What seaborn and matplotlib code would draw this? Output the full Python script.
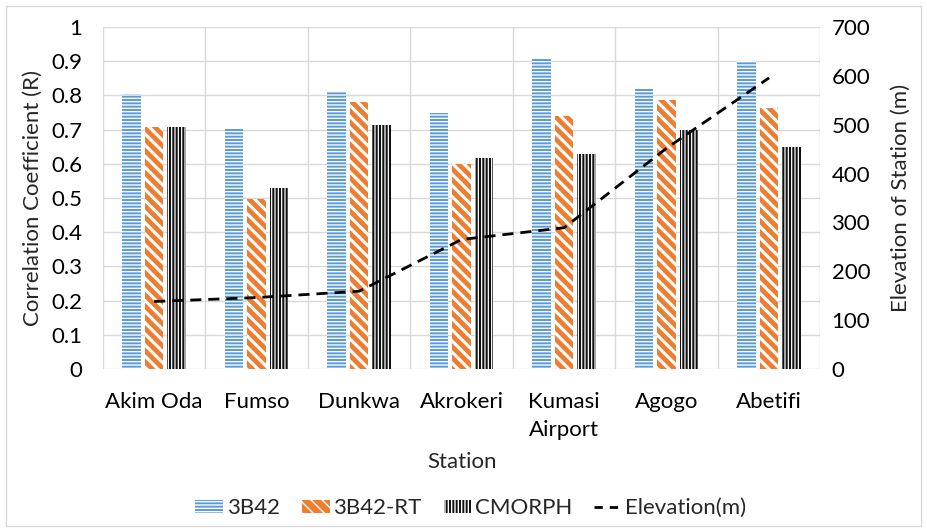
import numpy as np
import pandas as pd
import matplotlib
matplotlib.use("Agg")
import matplotlib.pyplot as plt
import matplotlib.patches as mpatches
from matplotlib.lines import Line2D
import seaborn as sns

stations = ["Akim Oda", "Fumso", "Dunkwa", "Akrokeri", "Kumasi\nAirport", "Agogo", "Abetifi"]
r_3b42 = [0.805, 0.703, 0.811, 0.749, 0.906, 0.823, 0.901]
r_3b42rt = [0.709, 0.497, 0.781, 0.600, 0.741, 0.787, 0.763]
r_cmorph = [0.709, 0.530, 0.714, 0.617, 0.629, 0.698, 0.649]
elevation = [138, 146, 159, 265, 289, 452, 596]
series_names = ["3B42", "3B42-RT", "CMORPH"]
left_ticks = [0, 0.1, 0.2, 0.3, 0.4, 0.5, 0.6, 0.7, 0.8, 0.9, 1]
left_tick_labels = ["0", "0.1", "0.2", "0.3", "0.4", "0.5", "0.6", "0.7", "0.8", "0.9", "1"]
right_ticks = [0, 100, 200, 300, 400, 500, 600, 700]

df = pd.DataFrame({
    "Station": stations * 3,
    "Series": sum([[s] * len(stations) for s in series_names], []),
    "R": r_3b42 + r_3b42rt + r_cmorph,
})

sns.set_theme(style="white")
plt.rcParams["font.family"] = ["Lato", "DejaVu Sans"]

FS = 16
colors = {"3B42": "#5B9BD5", "3B42-RT": "#ED7D31", "CMORPH": "#111111"}
hatches = {"3B42": "-----", "3B42-RT": "\\\\\\", "CMORPH": "|||||"}
hatch_lw = {"3B42": 1.0, "3B42-RT": 2.2, "CMORPH": 0.9}

fig = plt.figure(figsize=(9.27, 5.30), dpi=100)
ax = fig.add_axes([0.111, 0.304, 0.774, 0.645])

sns.barplot(data=df, x="Station", y="R", hue="Series", palette=colors,
            width=0.66, gap=0.18, ax=ax, legend=False, errorbar=None,
            saturation=1, zorder=2)

for container, name in zip(ax.containers, series_names):
    for bar in container:
        bar.set_hatch(hatches[name])
        bar.set_edgecolor("white")
        bar.set_linewidth(0)
        try:
            bar.set_hatch_linewidth(hatch_lw[name])
        except AttributeError:
            pass

ax.set_ylim(0, 1)
ax.set_xlim(-0.5, len(stations) - 0.5)
ax.set_yticks(left_ticks)
ax.set_yticklabels(left_tick_labels)
ax.set_xticks(range(len(stations)))
ax.set_xticklabels(stations, linespacing=1.45)
ax.set_xticks(np.arange(-0.5, len(stations), 1.0), minor=True)
ax.grid(axis="y", color="#D9D9D9", lw=1, zorder=0)
ax.grid(axis="x", which="minor", color="#D9D9D9", lw=1, zorder=0)
ax.grid(axis="x", which="major", visible=False)
ax.set_axisbelow(True)
for s in ax.spines.values():
    s.set_visible(False)
ax.tick_params(axis="x", which="both", length=0, labelsize=FS, colors="black", pad=17)
ax.tick_params(axis="y", which="both", length=0, labelsize=FS, colors="black", pad=15)
ax.set_xlabel("Station", fontsize=FS, labelpad=9)
ax.set_ylabel("Correlation Coefficient (R)", fontsize=FS, labelpad=6)

ax2 = ax.twinx()
sns.lineplot(x=np.arange(len(stations)), y=elevation, ax=ax2, color="black",
             lw=2, linestyle=(0, (4, 2.5)))
ax2.set_ylim(0, 700)
ax2.set_yticks(right_ticks)
ax2.set_yticklabels([str(t) for t in right_ticks])
ax2.set_xlim(-0.5, len(stations) - 0.5)
for s in ax2.spines.values():
    s.set_visible(False)
ax2.tick_params(axis="y", length=0, labelsize=FS, colors="black", pad=8)
ax2.set_ylabel("Elevation of Station (m)", fontsize=FS, labelpad=15)
ax2.grid(False)

handles = []
for name in series_names:
    p = mpatches.Patch(facecolor=colors[name], edgecolor="white", hatch=hatches[name], linewidth=0)
    try:
        p.set_hatch_linewidth(hatch_lw[name])
    except AttributeError:
        pass
    handles.append(p)
handles.append(Line2D([], [], color="black", lw=2, linestyle=(0, (3, 2.5))))
fig.legend(handles, series_names + ["Elevation(m)"], loc="center", bbox_to_anchor=(0.508, 0.041),
           ncol=4, frameon=False, fontsize=FS, handlelength=1.25, handleheight=0.55,
           handletextpad=0.15, columnspacing=1.0)

fig.add_artist(mpatches.Rectangle((0.006, 0.008), 0.988, 0.98, transform=fig.transFigure,
                                  fill=False, edgecolor="#D9D9D9", lw=1))

fig.savefig("out.png", dpi=100)
